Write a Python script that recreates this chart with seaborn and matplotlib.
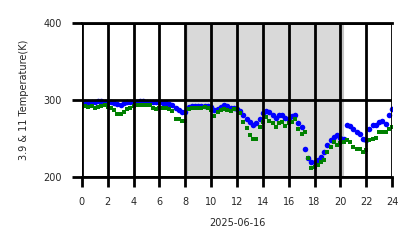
import numpy as np
import pandas as pd
import matplotlib
matplotlib.use("Agg")
import matplotlib.pyplot as plt
import seaborn as sns

hours = [i * 0.25 for i in range(97)]

temp_11 = [297, 297, 297, 297, 298, 299, 299, 298, 297, 297, 296, 295, 294, 296, 297, 298,
           298, 298, 299, 299, 298, 298, 297, 297, 297, 296, 296, 295, 294, 290, 287, 285,
           284, 291, 292, 292, 292, 292, 292, 292, 291, 287, 289, 291, 293, 292, 290, 290,
           289, 286, 280, 275, 271, 268, 270, 276, 283, 286, 284, 280, 277, 280, 281, 277,
           276, 279, 281, 270, 265, 237, 225, 220, 219, 222, 226, 232, 242, 248, 252, 254,
           251, 250, 267, 266, 263, 258, 256, 250, 248, 262, 267, 268, 272, 273, 269, 281,
           289]

temp_39 = [291, 292, 291, 292, 290, 291, 292, 293, 291, 290, 287, 282, 282, 285, 289, 290,
           292, 293, 293, 293, 293, 293, 290, 289, 290, 290, 290, 289, 286, 276, 275, 273,
           273, 289, 290, 290, 290, 290, 291, 290, 287, 279, 284, 287, 288, 287, 286, 288,
           288, 283, 271, 264, 255, 249, 250, 265, 272, 278, 273, 270, 265, 270, 271, 266,
           270, 272, 276, 262, 256, 258, 225, 212, 213, 216, 219, 222, 233, 239, 245, 242,
           244, 246, 248, 245, 239, 237, 237, 233, 235, 248, 249, 251, 258, 259, 259, 262,
           265]

night_start = 8.15
night_end = 20.2

x_ticks = list(range(0, 25, 2))
y_ticks = [200, 300, 400]

df = pd.DataFrame({"hour": hours, "t11": temp_11, "t39": temp_39})

sns.set_style("white")
fig = plt.figure(figsize=(4.18, 2.48), dpi=100)
ax = fig.add_axes([0.196, 0.286, 0.742, 0.621])

ax.axvspan(night_start, night_end, facecolor="#d9d9d9", edgecolor="#c6c6c6",
           linewidth=1.5, zorder=0)

sns.scatterplot(data=df, x="hour", y="t11", color="blue", marker="o", s=16,
                linewidth=0, ax=ax, zorder=2)
sns.scatterplot(data=df, x="hour", y="t39", color="green", marker="s", s=9,
                linewidth=0, ax=ax, zorder=2.5)

ax.set_xlim(0, 24)
ax.set_ylim(200, 400)
ax.set_xticks(x_ticks)
ax.set_yticks(y_ticks)
ax.set_axisbelow(False)
ax.grid(True, color="black", linewidth=2.0)
for gl in ax.get_xgridlines() + ax.get_ygridlines():
    gl.set_zorder(3)
for side in ["top", "bottom"]:
    ax.spines[side].set_visible(True)
    ax.spines[side].set_color("black")
    ax.spines[side].set_linewidth(2.0)
    ax.spines[side].set_zorder(3)
for side in ["left", "right"]:
    ax.spines[side].set_visible(False)
ax.tick_params(axis="both", which="major", length=7.5, width=2.0, color="black",
               labelsize=7, direction="out", bottom=True, left=True, pad=7)
ax.set_xlabel("2025-06-16", fontsize=7, labelpad=8)
ax.set_ylabel("3.9 & 11 Temperature(K)", fontsize=7, labelpad=10)

fig.savefig("out.png", dpi=100)
